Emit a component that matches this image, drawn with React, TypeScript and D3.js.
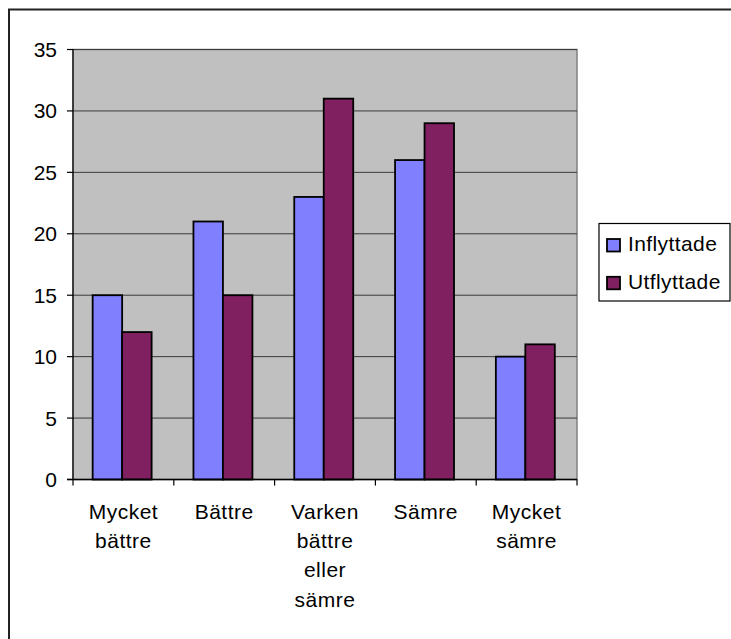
import React from "react";
import * as d3 from "d3";

const categories = ["Mycket bättre", "Bättre", "Varken bättre eller sämre", "Sämre", "Mycket sämre"];
const seriesNames = ["Inflyttade", "Utflyttade"];
const inflyttade = [15, 21, 23, 26, 10];
const utflyttade = [12, 15, 31, 29, 11];
const yTicks = [0, 5, 10, 15, 20, 25, 30, 35];
const colors = ["#8080FF", "#802060"];

const W = 731;
const H = 639;
const plot = { left: 73, top: 49.5, right: 577, bottom: 479.5 };
const FONT = "'Liberation Sans', Arial, sans-serif";

export default function App() {
  const values = [inflyttade, utflyttade];
  const x0 = d3.scaleBand<string>().domain(categories).range([plot.left, plot.right]).padding(0);
  const bw = x0.bandwidth();
  const x1 = d3.scaleBand<string>().domain(seriesNames).range([bw * 0.195, bw * 0.78]).padding(0);
  const y = d3.scaleLinear().domain([0, 35]).range([plot.bottom, plot.top]);

  return (
    <svg
      width={W}
      height={H}
      style={{ position: "absolute", left: 0, top: 0, background: "#fff" }}
      fontFamily={FONT}
    >
      <rect x={9} y={9.5} width={W + 20} height={H + 20} fill="#fff" stroke="#222" strokeWidth={2} />
      {/* plot background */}
      <rect
        x={plot.left}
        y={plot.top}
        width={plot.right - plot.left}
        height={plot.bottom - plot.top}
        fill="#C0C0C0"
        stroke="#808080"
        strokeWidth={1.5}
      />
      {/* gridlines */}
      {yTicks.filter((t) => t > 0).map((t) => (
        <line key={t} x1={plot.left} x2={plot.right} y1={y(t)} y2={y(t)} stroke="#3a3a3a" strokeWidth={1} />
      ))}
      {/* bars */}
      {categories.map((c, i) => (
        <g key={c} transform={`translate(${x0(c)},0)`}>
          {seriesNames.map((s, j) => (
            <rect
              key={s}
              x={x1(s)}
              y={y(values[j][i])}
              width={x1.bandwidth()}
              height={y(0) - y(values[j][i])}
              fill={colors[j]}
              stroke="#000"
              strokeWidth={1.8}
            />
          ))}
        </g>
      ))}
      {/* axes */}
      <line x1={plot.left} x2={plot.left} y1={plot.top} y2={plot.bottom} stroke="#000" strokeWidth={1.2} />
      <line x1={plot.left - 6} x2={plot.right} y1={plot.bottom} y2={plot.bottom} stroke="#000" strokeWidth={1.5} />
      {yTicks.map((t) => (
        <g key={t}>
          <line x1={plot.left - 6} x2={plot.left} y1={y(t)} y2={y(t)} stroke="#000" strokeWidth={1.2} />
          <text x={57} y={y(t)} dy="0.36em" textAnchor="end" fontSize={21} fill="#000">
            {t}
          </text>
        </g>
      ))}
      {categories.map((c, i) => (
        <line
          key={"tk" + i}
          x1={(x0(c) as number)}
          x2={(x0(c) as number)}
          y1={plot.bottom}
          y2={plot.bottom + 6}
          stroke="#000"
          strokeWidth={1.2}
        />
      ))}
      <line x1={plot.right} x2={plot.right} y1={plot.bottom} y2={plot.bottom + 6} stroke="#000" strokeWidth={1.2} />
      {categories.map((c) => (
        <text
          key={"lb" + c}
          x={(x0(c) as number) + bw / 2}
          y={519}
          textAnchor="middle"
          fontSize={21}
          letterSpacing={0.5}
          fill="#000"
        >
          {c.split(" ").map((w, k) => (
            <tspan key={k} x={(x0(c) as number) + bw / 2} y={519 + k * 29.2}>
              {w}
            </tspan>
          ))}
        </text>
      ))}
      {/* legend */}
      <rect x={599} y={223.5} width={131} height={77.5} fill="#fff" stroke="#000" strokeWidth={1.2} />
      {seriesNames.map((s, j) => (
        <g key={s}>
          <rect x={607} y={239 + j * 37.8} width={13} height={12.5} fill={colors[j]} stroke="#000" strokeWidth={1.8} />
          <text x={628} y={250.7 + j * 37.8} fontSize={21} letterSpacing={0.4} fill="#000">
            {s}
          </text>
        </g>
      ))}
    </svg>
  );
}
